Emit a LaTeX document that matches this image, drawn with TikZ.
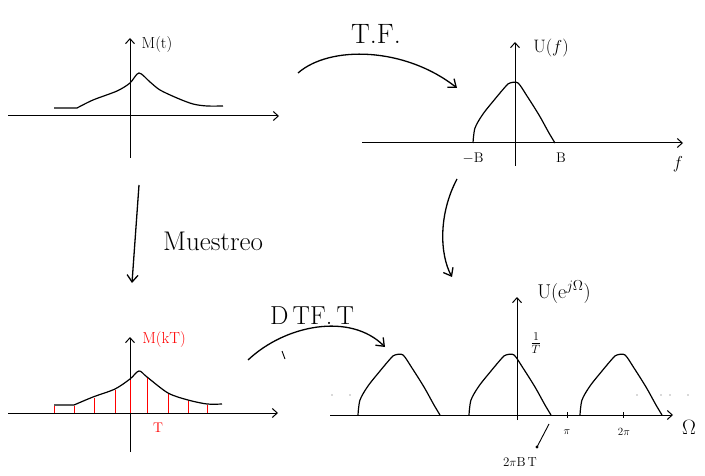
\documentclass[tikz,border=0pt]{standalone}
\usetikzlibrary{arrows.meta}

% font size in pt
\newcommand{\fsz}[1]{\fontsize{#1}{#1}\selectfont}
% one hand-drawn spectrum lobe: centre x, axis y
\newcommand{\lobe}[2]{%
  \draw[sig] plot[smooth] coordinates {(#1-41,#2) (#1-39,#2-15) (#1-31,#2-29)
    (#1-19,#2-44) (#1-8,#2-57) (#1-4,#2-60) (#1+4,#2-60) (#1+13,#2-47) (#1+25,#2-28)
    (#1+35,#2-10) (#1+41,#2)};}

\begin{document}
\begin{tikzpicture}[x=1pt, y=-1pt,
    axis/.style={line width=1pt, -{Straight Barb[length=5pt,width=9pt]}},
    sig/.style={line width=1.2pt, line join=round},
    samp/.style={red, line width=1pt},
    flow/.style={line width=1.3pt, -{Straight Barb[length=7pt,width=11pt]}},
    lbl/.style={inner sep=1pt}]
  \useasboundingbox (0,0) rectangle (705,476);

  % M(t)
  \draw[axis] (8,116) -- (279,116);
  \draw[axis] (130,158) -- (130,38);
  \node[lbl, font=\fsz{16}] (mt) at (157,45) {M(t)};
  \draw[sig] (54,108) -- (77,108) plot[smooth] coordinates {(77,108) (93,100) (117,91)
    (130,83) (139,73) (150,82) (160,90) (177,98) (193,104) (207,106) (223,106)};

  % U(f)
  \draw[axis] (362,143) -- (683,143);
  \draw[axis] (515,166) -- (515,42);
  \node[lbl, font=\fsz{18}] (uf) at (551,48) {U($f$)};
  \lobe{514}{143}
  \node[lbl, font=\fsz{14}] (mb) at (473,158) {$-$B};
  \node[lbl, font=\fsz{14}] (pb) at (561,158) {B};
  \node[lbl, font=\fsz{17}] (fa) at (678,164) {$f$};

  % M(kT)
  \draw[axis] (8,413) -- (278,413);
  \draw[axis] (130,452) -- (130,337);
  \node[lbl, font=\fsz{16}, red] (mkt) at (164,340) {M(kT)};
  \draw[sig] (54,405) -- (74,405) plot[smooth] coordinates {(74,405) (93,397) (115,389)
    (130,379) (139,371) (147,377) (168,393) (188,400) (207,404) (222,404)};
  \foreach \x/\y in {54/406,74/406,94/398,115/390,130/380,147/378,168/394,188/401,207/405}
    \draw[samp] (\x,412.5) -- (\x,\y);
  \node[lbl, font=\fsz{14}, red] (tk) at (158,428) {T};

  % U(e^jW)
  \draw[axis] (330,415) -- (673,415);
  \draw[axis] (517,420) -- (517,297);
  \node[lbl, font=\fsz{20}] (ue) at (564,292) {U(e$^{j\Omega}$)};
  \node[lbl, font=\fsz{17}] (inv) at (536,343) {$\frac{1}{T}$};
  \foreach \c in {399,510,621} \lobe{\c}{415}
  \foreach \x in {567,623} \draw[line width=0.9pt] (\x,412) -- (\x,418);
  \node[lbl, font=\fsz{11}] (pi1) at (567,432) {$\pi$};
  \node[lbl, font=\fsz{11}] (pi2) at (624,432) {2$\pi$};
  \node[lbl, font=\fsz{22}] (om) at (689,427) {$\Omega$};
  \node[lbl, font=\fsz{13}] (bw) at (520,462) {2$\pi$B\,T};
  \coordinate (bwa) at (549,424);
  \coordinate (bwb) at (537,447);
  \draw[line width=0.9pt] (bwa) -- (bwb);
  \fill (bwb) circle (1.6pt);
  \foreach \x in {332,350,637,661,670,688} \fill[gray!60] (\x,395) circle (0.9pt);

  % transforms
  \coordinate (tfs) at (298,73);
  \coordinate (tfe) at (457,88);
  \draw[flow] (tfs) .. controls (330,45) and (405,47) .. (tfe);
  \node[lbl, font=\fsz{28}] (tf) at (376,34) {T.F.};

  \coordinate (mus) at (139,185);
  \coordinate (mue) at (132,283);
  \draw[flow] (mus) -- (mue);
  \node[lbl, font=\fsz{27}] (mu) at (213,241) {Muestreo};

  \coordinate (fds) at (457,179);
  \coordinate (fde) at (452,277);
  \draw[flow] (fds) .. controls (438,215) and (440,255) .. (fde);

  \coordinate (dts) at (248,360);
  \coordinate (dte) at (385,347);
  \draw[flow] (dts) .. controls (285,325) and (350,312) .. (dte);
  \node[lbl, font=\fsz{26}] (dt) at (312,316) {D\,TF.\,T};
  \draw[line width=0.9pt] (282,351) -- (285,359);
\end{tikzpicture}
\end{document}
